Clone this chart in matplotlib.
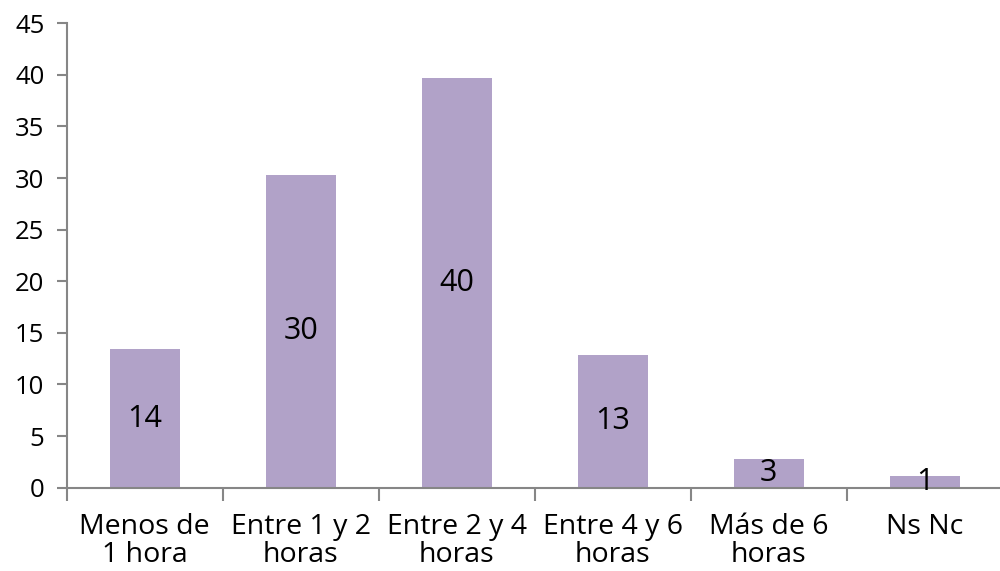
import matplotlib
matplotlib.use("Agg")
import matplotlib.pyplot as plt
import numpy as np

categories = ["Menos de\n1 hora", "Entre 1 y 2\nhoras", "Entre 2 y 4\nhoras",
              "Entre 4 y 6\nhoras", "Más de 6\nhoras", "Ns Nc"]
values = [13.4, 30.3, 39.7, 12.85, 2.8, 1.1]
labels = ["14", "30", "40", "13", "3", "1"]
yticks = [0, 5, 10, 15, 20, 25, 30, 35, 40, 45]

plt.rcParams['font.family'] = ['Open Sans', 'DejaVu Sans']

fig = plt.figure(figsize=(10, 5.71), dpi=100)
ax = fig.add_axes([0.0667, 0.1459, 0.936, 0.8133])

x = np.arange(len(categories))
bars = ax.bar(x, values, width=0.45, color="#B1A2C8", zorder=2)
for xi, v, lab in zip(x, values, labels):
    ax.text(xi, v / 2, lab, ha="center", va="center", fontsize=22, color="black", zorder=3)

ax.set_xlim(-0.5, len(categories) - 0.5)
ax.set_ylim(0, 45)
ax.set_yticks(yticks)
ax.set_yticklabels([str(t) for t in yticks], fontsize=18.5)

ax.set_xticks(x)
ax.set_xticklabels(categories, fontsize=20.5, linespacing=1.0)
ax.tick_params(axis="x", which="major", length=0, pad=18)
ax.set_xticks(np.arange(len(categories) + 1) - 0.5, minor=True)
ax.tick_params(axis="x", which="minor", length=9, width=1.5, color="#868686", direction="out")
ax.tick_params(axis="y", length=7, width=1.5, color="#868686", direction="out", pad=9)

for s in ["top", "right"]:
    ax.spines[s].set_visible(False)
for s in ["left", "bottom"]:
    ax.spines[s].set_color("#868686")
    ax.spines[s].set_linewidth(1.5)

fig.savefig("out.png", dpi=100)
